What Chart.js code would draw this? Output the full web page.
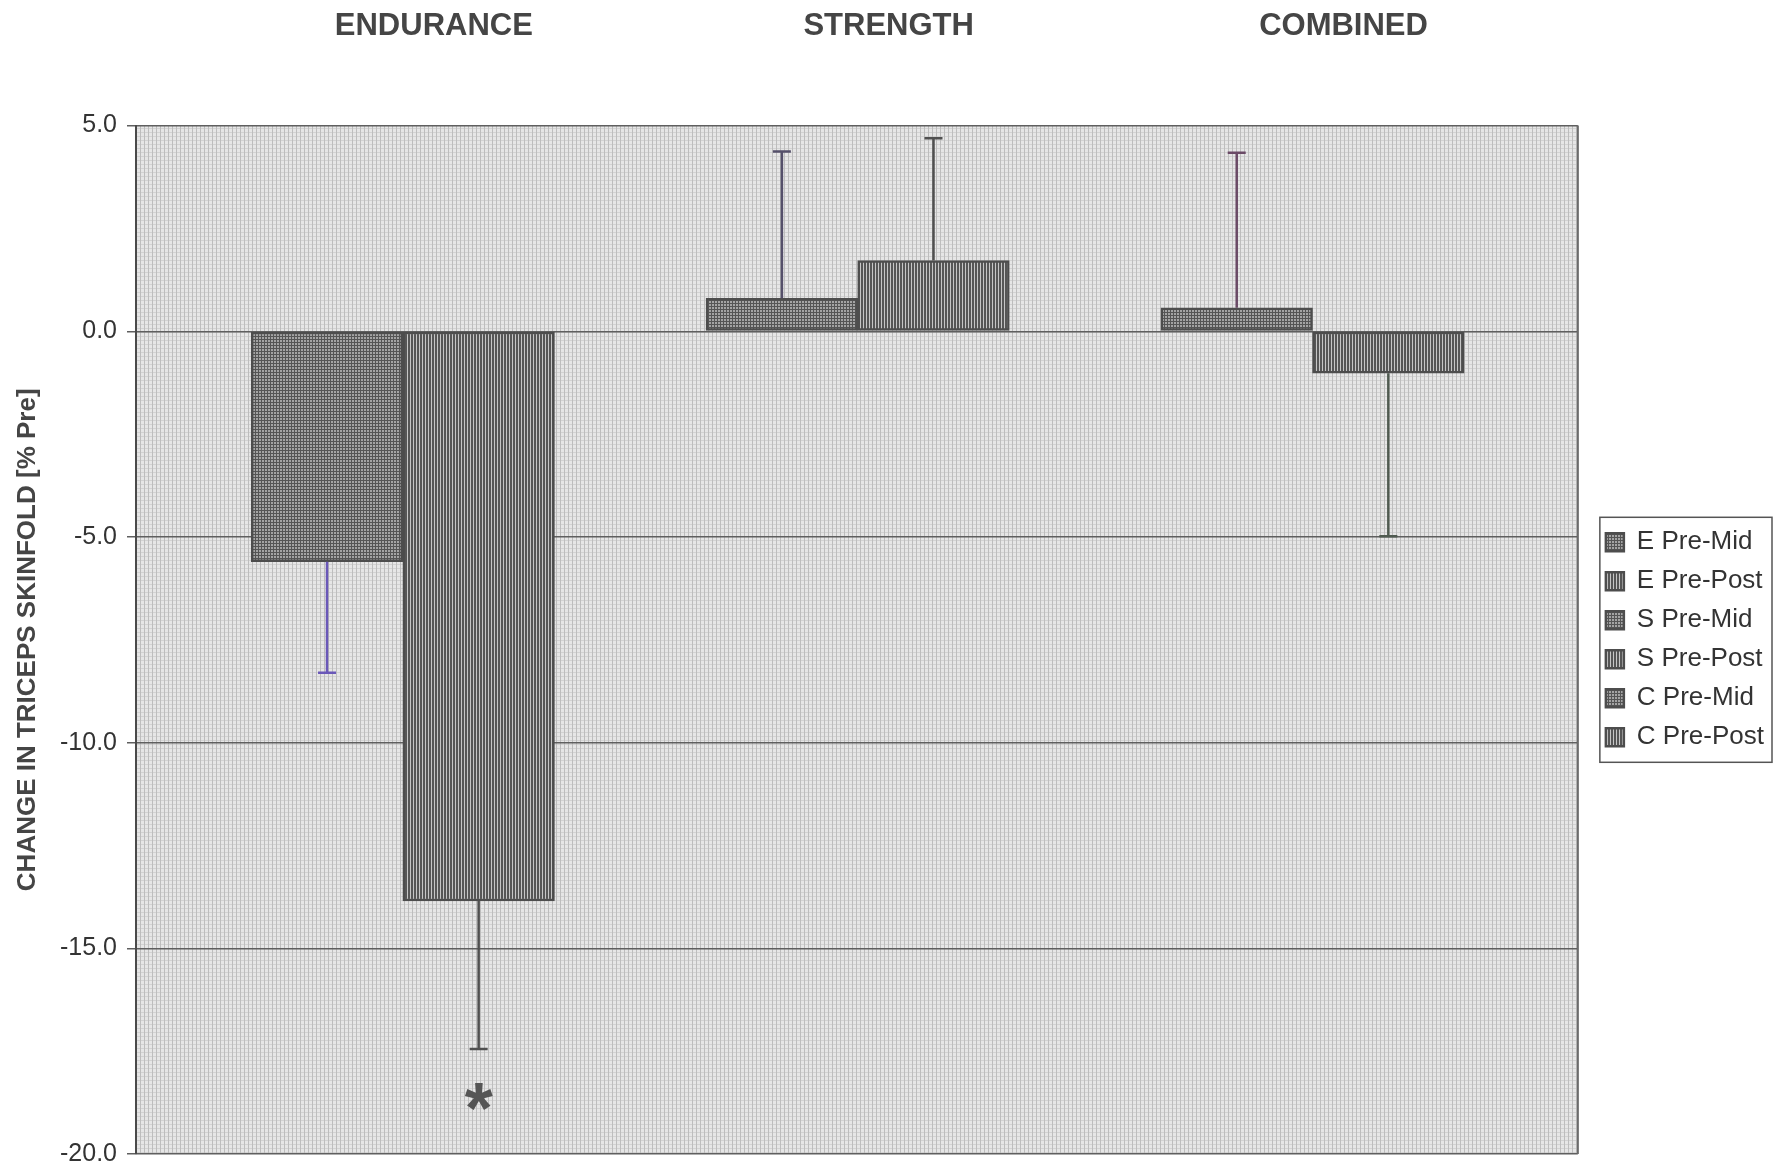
<!DOCTYPE html>
<html>
<head>
<meta charset="utf-8">
<title>Change in triceps skinfold</title>
<script src="https://cdn.jsdelivr.net/npm/chart.js@4.4.1/dist/chart.umd.min.js"></script>
<style>
  html, body { margin: 0; padding: 0; background: #fff; }
  #wrap { position: relative; width: 1774px; height: 1169px; }
</style>
</head>
<body>
<div id="wrap"><canvas id="skinfoldChart"></canvas></div>
<script>
// Values (% change from Pre)
const groups = ['ENDURANCE', 'STRENGTH', 'COMBINED'];
const series = ['E Pre-Mid', 'E Pre-Post', 'S Pre-Mid', 'S Pre-Post', 'C Pre-Mid', 'C Pre-Post'];
const seriesGroup = [0, 0, 1, 1, 2, 2];
const means = [-5.6, -13.85, 0.8, 1.72, 0.57, -1.02];
const errors = [2.7, 3.6, 3.57, 2.97, 3.77, 3.96];
const significant = [false, true, false, false, false, false];
const yTicks = [5, 0, -5, -10, -15, -20];

const FONT = "'Liberation Sans', Arial, sans-serif";
Chart.defaults.font.family = FONT;

// small tiled fills to imitate the printed hatching
function makePattern(w, h, paint) {
    const c = document.createElement('canvas');
    c.width = w;
    c.height = h;
    const g = c.getContext('2d');
    paint(g);
    return g.createPattern(c, 'repeat');
}

const paperFill = makePattern(4, 4, g => {
    g.fillStyle = '#e6e6e6';
    g.fillRect(0, 0, 4, 4);
    g.fillStyle = '#d2d2d2';
    g.fillRect(0, 0, 4, 1);
    g.fillStyle = '#bdbdbd';
    g.fillRect(0, 0, 1, 4);
});

const gridFill = makePattern(3, 3, g => {
    g.fillStyle = '#a4a4a4';
    g.fillRect(0, 0, 3, 3);
    g.fillStyle = '#555555';
    g.fillRect(0, 0, 3, 1);
    g.fillRect(0, 0, 1, 3);
});

const stripeFill = makePattern(3, 1, g => {
    g.fillStyle = '#c6c6c6';
    g.fillRect(0, 0, 3, 1);
    g.fillStyle = '#565656';
    g.fillRect(0, 0, 2, 1);
});

const whiskerColors = ['#6a58b8', '#505050', '#55506a', '#505050', '#6a4a66', '#4f5a50'];

// one bar per series; a blank slot is left between the three groups
const datasets = series.map((name, i) => ({
    label: name,
    data: [{ x: seriesGroup[i] * 3 + (i % 2) + 1, y: means[i] }],
    backgroundColor: i % 2 ? stripeFill : gridFill,
    borderColor: '#4d4d4d',
    borderWidth: 2.5,
    borderSkipped: false,
    grouped: false,
    barPercentage: 1,
    categoryPercentage: 1,
}));

// Plot background + right edge of the frame
const plotPaper = {
    id: 'plotPaper',
    beforeDraw(chart) {
        const { ctx, chartArea: a } = chart;
        ctx.save();
        ctx.fillStyle = paperFill;
        ctx.fillRect(a.left, a.top, a.right - a.left, a.bottom - a.top);
        ctx.restore();
    },
    beforeDatasetsDraw(chart) {
        const { ctx, chartArea: a } = chart;
        ctx.save();
        ctx.strokeStyle = '#6a6a6a';
        ctx.lineWidth = 2;
        ctx.beginPath();
        ctx.moveTo(a.right, a.top);
        ctx.lineTo(a.right, a.bottom);
        ctx.stroke();
        ctx.restore();
    }
};

// One-sided error bars, plus the asterisk for significance
const errorBars = {
    id: 'errorBars',
    afterDatasetsDraw(chart) {
        const { ctx } = chart;
        const y = chart.scales.y;
        ctx.save();
        chart.data.datasets.forEach((ds, i) => {
            const bar = chart.getDatasetMeta(i).data[0];
            if (!bar) return;
            const dir = means[i] < 0 ? -1 : 1;
            const yStart = y.getPixelForValue(means[i]);
            const yEnd = y.getPixelForValue(means[i] + dir * errors[i]);
            ctx.strokeStyle = whiskerColors[i];
            ctx.lineWidth = 2.5;
            ctx.beginPath();
            ctx.moveTo(bar.x, yStart);
            ctx.lineTo(bar.x, yEnd);
            ctx.moveTo(bar.x - 9, yEnd);
            ctx.lineTo(bar.x + 9, yEnd);
            ctx.stroke();

            if (significant[i]) {
                ctx.font = 'bold 72px ' + FONT;
                ctx.fillStyle = '#555';
                ctx.textAlign = 'center';
                ctx.textBaseline = 'alphabetic';
                const m = ctx.measureText('*');
                const centre = yEnd - dir * 47;
                const base = centre - (m.actualBoundingBoxDescent - m.actualBoundingBoxAscent) / 2;
                ctx.fillText('*', bar.x, base);
            }
        });
        ctx.restore();
    }
};

// Frame around the legend entries
const legendFrame = {
    id: 'legendFrame',
    afterDraw(chart) {
        const boxes = chart.legend && chart.legend.legendHitBoxes;
        if (!boxes || !boxes.length) return;
        const { ctx } = chart;
        const left = Math.min(...boxes.map(b => b.left)) - 6;
        const right = Math.max(...boxes.map(b => b.left + b.width)) + 8;
        const top = boxes[0].top - 12;
        const last = boxes[boxes.length - 1];
        const bottom = last.top + last.height + 12;
        ctx.save();
        ctx.strokeStyle = '#555';
        ctx.lineWidth = 1.5;
        ctx.strokeRect(left, top, right - left, bottom - top);
        ctx.restore();
    }
};

new Chart(document.getElementById('skinfoldChart'), {
    type: 'bar',
    data: { datasets },
    plugins: [plotPaper, errorBars, legendFrame],
    options: {
        responsive: true,
        maintainAspectRatio: false,
        animation: false,
        layout: { padding: { top: 7, right: 0, bottom: 15, left: 8 } },
        plugins: {
            tooltip: { enabled: false },
            legend: {
                position: 'right',
                fullSize: false,
                align: 'center',
                labels: {
                    boxWidth: 18,
                    boxHeight: 18,
                    padding: 13,
                    color: '#333',
                    font: { size: 26 }
                }
            }
        },
        scales: {
            x: {
                type: 'linear',
                position: 'top',
                min: -0.26,
                max: 9.25,
                offset: false,
                grid: { display: false, drawTicks: false },
                border: { display: false },
                afterBuildTicks: axis => {
                    axis.ticks = groups.map((g, k) => ({ value: k * 3 + 1.5 }));
                },
                afterFit: axis => { axis.height = 118.6; },
                ticks: {
                    autoSkip: false,
                    maxRotation: 0,
                    padding: 81,
                    labelOffset: 31,
                    color: '#454545',
                    font: { size: 31, weight: 'bold' },
                    callback: (v, k) => groups[k]
                }
            },
            y: {
                min: -20,
                max: 5,
                afterBuildTicks: axis => {
                    axis.ticks = yTicks.map(v => ({ value: v }));
                },
                afterFit: axis => {
                    axis.width = 128;
                    axis.paddingTop = 0;
                    axis.paddingBottom = 0;
                },
                grid: { color: '#5f5f5f', lineWidth: 1.5, tickLength: 9 },
                border: { display: true, color: '#4a4a4a', width: 2 },
                ticks: {
                    padding: 10,
                    color: '#333',
                    font: { size: 25 },
                    callback: v => v.toFixed(1)
                },
                title: {
                    display: true,
                    text: 'CHANGE IN TRICEPS SKINFOLD [% Pre]',
                    color: '#454545',
                    font: { size: 26, weight: 'bold' },
                    padding: { top: 4, bottom: 0 }
                }
            },
            yGap: {
                position: 'right',
                grid: { display: false, drawTicks: false },
                border: { display: false },
                ticks: { display: false },
                afterFit: axis => {
                    axis.width = 15;
                    axis.paddingTop = 0;
                    axis.paddingBottom = 0;
                }
            }
        }
    }
});
</script>
</body>
</html>
